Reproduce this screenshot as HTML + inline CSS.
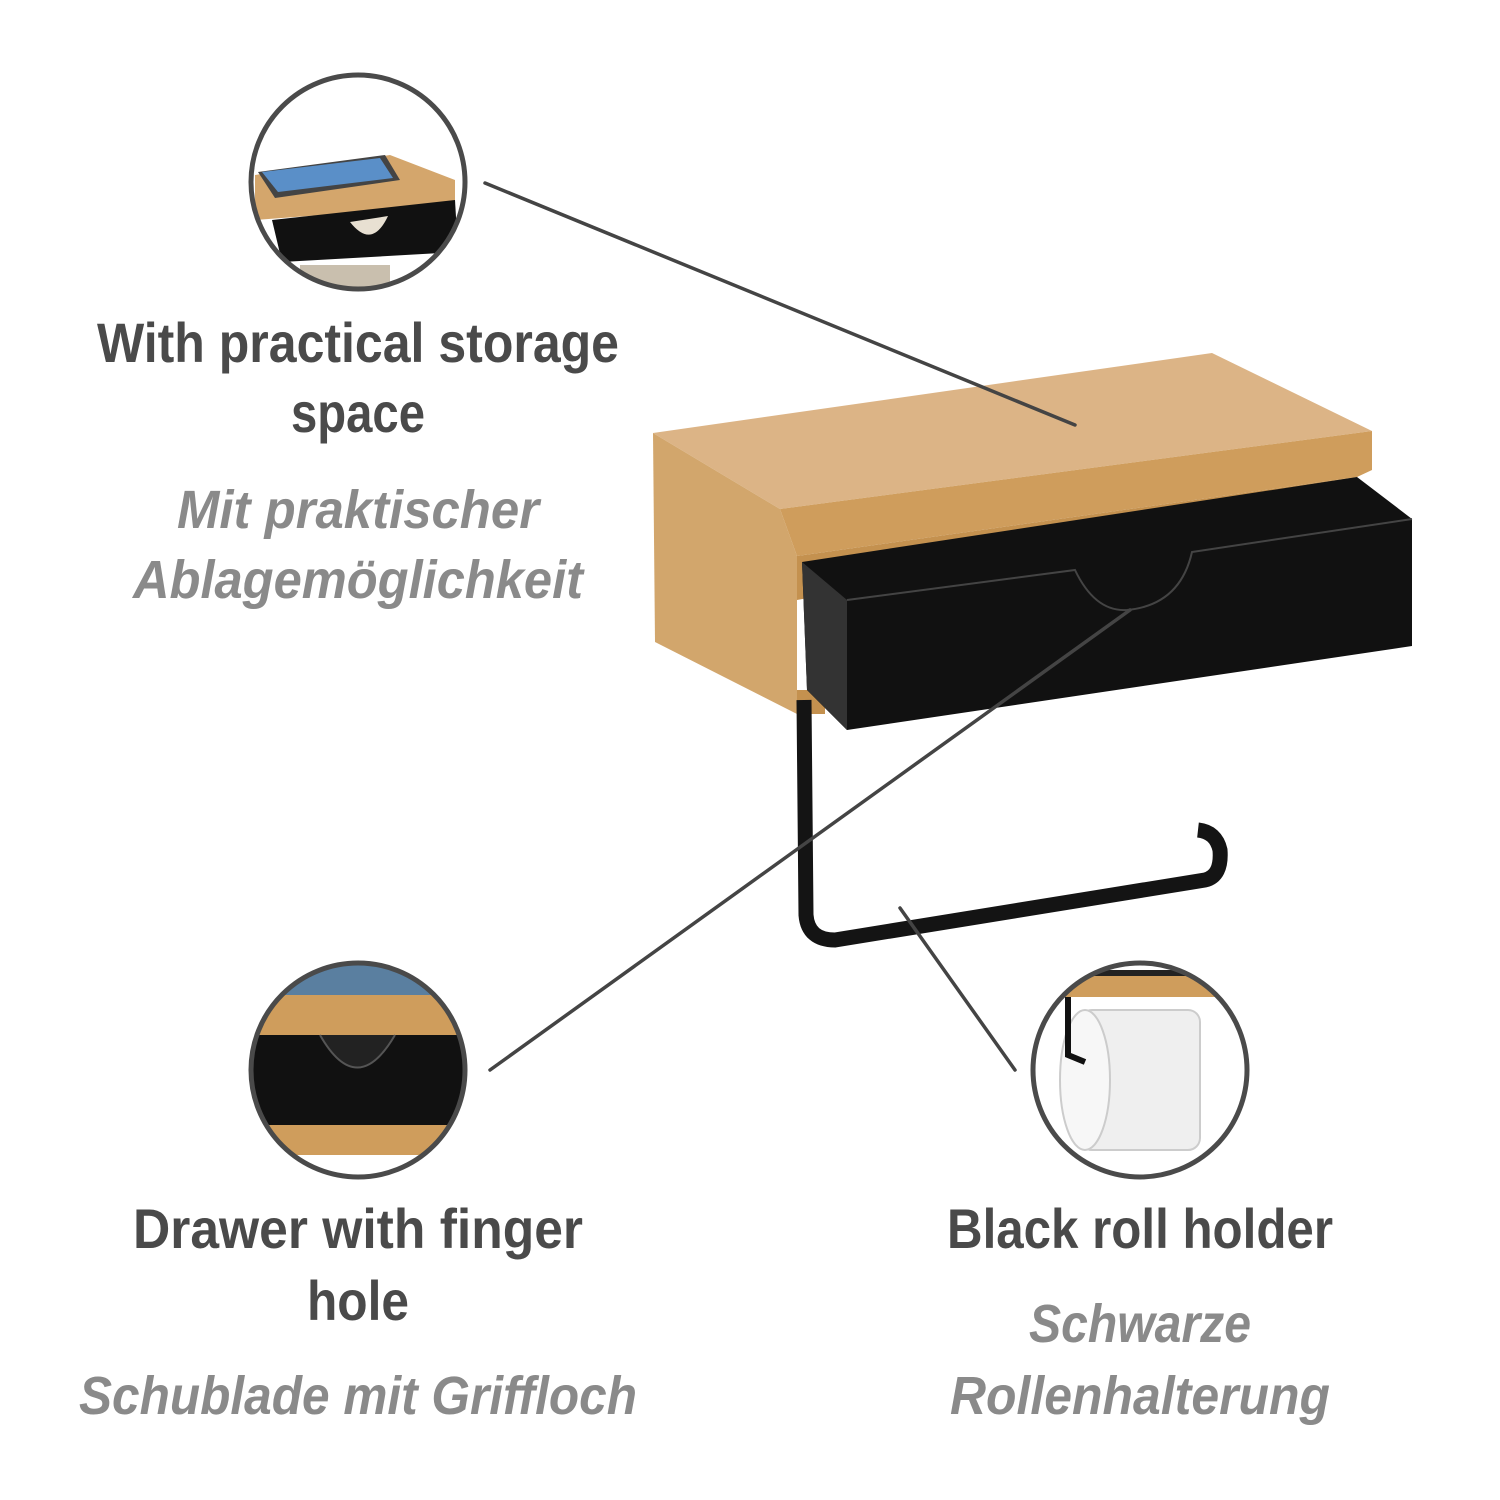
<!DOCTYPE html>
<html><head><meta charset="utf-8"><style>
html,body{margin:0;padding:0;background:#fff;width:1500px;height:1500px;overflow:hidden}
.b{font-family:"Liberation Sans Narrow","Liberation Sans",sans-serif;font-weight:bold;font-size:56px;fill:#4a4a4a}
.i{font-family:"Liberation Sans Narrow","Liberation Sans",sans-serif;font-style:italic;font-weight:bold;font-size:54px;fill:#8a8a8a}
</style></head><body>
<svg width="1500" height="1500" viewBox="0 0 1500 1500" xmlns="http://www.w3.org/2000/svg">
<defs>
<linearGradient id="w" x1="0" y1="0" x2="1" y2="1"><stop offset="0" stop-color="#e2b98a"/><stop offset="1" stop-color="#c99a5e"/></linearGradient>
<clipPath id="c1"><circle cx="358" cy="182" r="105"/></clipPath>
<clipPath id="c2"><circle cx="358" cy="1070" r="105"/></clipPath>
<clipPath id="c3"><circle cx="1140" cy="1070" r="105"/></clipPath>
</defs>
<!-- product -->
<polygon points="653,433 1212,353 1372,431 780,509" fill="#dcb486"/>
<polygon points="653,433 780,509 797,556 797,714 655,642" fill="#d2a66c"/>
<polygon points="780,509 1372,431 1372,470 1357,477 797,556" fill="#cf9d5c"/>
<polygon points="797,556 1357,477 1357,500 797,600" fill="#c4914f"/>
<polygon points="797,714 825,714 825,690 797,690" fill="#c4914f"/>
<polygon points="802,562 1357,477 1412,519 1412,646 847,730 807,690" fill="#111"/>
<polygon points="802,562 847,600 847,730 807,690" fill="#333"/>
<path d="M847,600 L1075,570 Q1095,612 1127,610 Q1180,605 1192,552 L1412,519" fill="none" stroke="#444" stroke-width="2"/>
<path d="M804,700 L806,915 Q808,940 835,940 L1205,880 Q1222,876 1220,850 Q1216,832 1198,830" fill="none" stroke="#141414" stroke-width="15" stroke-linejoin="round"/>
<!-- connectors -->
<g stroke="#444" stroke-width="3.5" stroke-linecap="round">
<line x1="485" y1="183" x2="1075" y2="425"/>
<line x1="490" y1="1070" x2="1130" y2="610"/>
<line x1="900" y1="908" x2="1015" y2="1070"/>
</g>
<!-- circle 1 -->
<g clip-path="url(#c1)">
<rect x="250" y="75" width="220" height="220" fill="#fff"/>
<polygon points="255,175 390,155 455,180 455,205 255,220" fill="#d4a66c"/>
<polygon points="258,172 385,155 400,180 275,198" fill="#444"/>
<polygon points="262,172 380,158 393,178 278,192" fill="#5a8fc8"/>
<polygon points="272,220 455,200 458,252 282,262" fill="#111"/>
<path d="M350,222 Q372,250 388,216" fill="#e8e0d2"/>
<rect x="300" y="265" width="90" height="30" fill="#c9bfae"/>
</g>
<circle cx="358" cy="182" r="107" fill="none" stroke="#4a4a4a" stroke-width="5"/>
<!-- circle 2 -->
<g clip-path="url(#c2)">
<rect x="250" y="960" width="220" height="220" fill="#fff"/>
<rect x="250" y="960" width="220" height="40" fill="#5a7fa0"/>
<rect x="250" y="995" width="220" height="40" fill="#cf9d5c"/>
<rect x="250" y="1035" width="220" height="90" fill="#111"/>
<path d="M320,1035 Q357,1100 395,1035" fill="#222" stroke="#555" stroke-width="2"/>
<rect x="250" y="1125" width="220" height="30" fill="#cf9d5c"/>
</g>
<circle cx="358" cy="1070" r="107" fill="none" stroke="#4a4a4a" stroke-width="5"/>
<!-- circle 3 -->
<g clip-path="url(#c3)">
<rect x="1030" y="960" width="220" height="220" fill="#fff"/>
<rect x="1030" y="975" width="220" height="22" fill="#cf9d5c"/>
<rect x="1030" y="970" width="220" height="6" fill="#222"/>
<rect x="1080" y="1010" width="120" height="140" rx="12" fill="#efefef" stroke="#ccc" stroke-width="2"/>
<ellipse cx="1085" cy="1080" rx="25" ry="70" fill="#f7f7f7" stroke="#ccc" stroke-width="2"/>
<path d="M1068,997 L1068,1055 L1085,1062" fill="none" stroke="#111" stroke-width="6"/>
</g>
<circle cx="1140" cy="1070" r="107" fill="none" stroke="#4a4a4a" stroke-width="5"/>
<!-- text -->
<g text-anchor="middle">
<text class="b" x="358" y="362" textLength="522" lengthAdjust="spacingAndGlyphs">With practical storage</text>
<text class="b" x="358" y="432" textLength="134" lengthAdjust="spacingAndGlyphs">space</text>
<text class="i" x="358" y="528" textLength="362" lengthAdjust="spacingAndGlyphs">Mit praktischer</text>
<text class="i" x="358" y="598" textLength="450" lengthAdjust="spacingAndGlyphs">Ablagemöglichkeit</text>
<text class="b" x="358" y="1248" textLength="450" lengthAdjust="spacingAndGlyphs">Drawer with finger</text>
<text class="b" x="358" y="1320" textLength="102" lengthAdjust="spacingAndGlyphs">hole</text>
<text class="i" x="358" y="1414" textLength="558" lengthAdjust="spacingAndGlyphs">Schublade mit Griffloch</text>
<text class="b" x="1140" y="1248" textLength="386" lengthAdjust="spacingAndGlyphs">Black roll holder</text>
<text class="i" x="1140" y="1342" textLength="222" lengthAdjust="spacingAndGlyphs">Schwarze</text>
<text class="i" x="1140" y="1414" textLength="380" lengthAdjust="spacingAndGlyphs">Rollenhalterung</text>
</g>
</svg>
</body></html>
